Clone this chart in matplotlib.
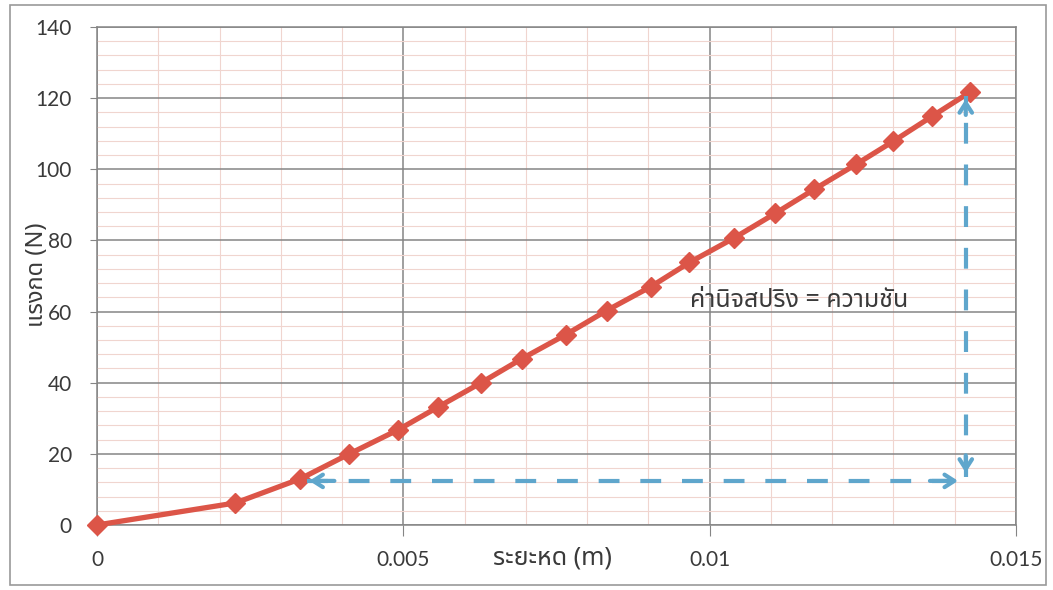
import matplotlib
matplotlib.use("Agg")
import matplotlib.pyplot as plt
from matplotlib.patches import Rectangle
from matplotlib.ticker import MultipleLocator

# ระยะหด (m) และ แรงกด (N)
disp = [0, 0.00226, 0.00332, 0.00412, 0.00492, 0.00557, 0.00627, 0.00694, 0.00765,
        0.00832, 0.00904, 0.00967, 0.01039, 0.01107, 0.01171, 0.01239, 0.01300,
        0.01363, 0.01425]
force = [0, 6.2, 13.0, 20.0, 26.8, 33.2, 40.0, 46.8, 53.5, 60.3, 67.0, 73.8, 80.6,
         87.6, 94.4, 101.4, 107.9, 114.9, 121.7]

xlabel = "ระยะหด (m)"
ylabel = "แรงกด (N)"
note = "ค่านิจสปริง = ความชัน"
xticks = [0, 0.005, 0.01, 0.015]
xticklabels = ["0", "0.005", "0.01", "0.015"]

thai = ["Noto Sans Thai", "DejaVu Sans"]
num = ["Lato", "DejaVu Sans"]
red = "#dc5548"
blue = "#5fa6cc"
txt = "#3a3a3a"

fig = plt.figure(figsize=(10.53, 5.9), dpi=100)
ax = fig.add_axes([97 / 1053, 1 - 525 / 590, 919 / 1053, 498 / 590])

ax.set_xlim(0, 0.015)
ax.set_ylim(0, 140)
ax.xaxis.set_major_locator(MultipleLocator(0.005))
ax.xaxis.set_minor_locator(MultipleLocator(0.001))
ax.yaxis.set_major_locator(MultipleLocator(20))
ax.yaxis.set_minor_locator(MultipleLocator(4))
ax.grid(which="minor", color="#f0d5cf", lw=0.8)
ax.grid(which="major", color="#858585", lw=1.1)
ax.set_axisbelow(True)
for s in ax.spines.values():
    s.set_color("#858585")
    s.set_linewidth(1.1)

ax.set_xticks(xticks)
ax.set_xticklabels(xticklabels)
ax.tick_params(which="major", axis="x", length=8, color="#858585", pad=10)
ax.tick_params(which="major", axis="y", length=5, color="#858585", pad=13)
ax.tick_params(which="minor", length=0)
for lab in ax.get_xticklabels() + ax.get_yticklabels():
    lab.set_family(num)
    lab.set_fontsize(15)
    lab.set_color(txt)

ax.plot(disp, force, color=red, lw=3.8, marker="D", markersize=10,
        markerfacecolor=red, markeredgecolor=red, zorder=3, clip_on=False)

# เส้นประลูกศร
x0, x1 = disp[2] + 0.0001, disp[-1] - 0.0001
y0, y1 = force[2] - 0.6, force[-1] - 1.2
ax.plot([x0, x1], [y0, y0], color=blue, lw=3, dashes=(5, 5), zorder=4)
ax.plot([x1 + 0.00003, x1 + 0.00003], [y0 + 1, y1], color=blue, lw=3, dashes=(5, 5), zorder=4)
head = dict(arrowstyle="->,head_length=0.7,head_width=0.45", color=blue, lw=3)
ax.annotate("", xy=(x0, y0), xytext=(x0 + 0.0005, y0), arrowprops=head, zorder=5)
ax.annotate("", xy=(x1 - 0.00005, y0), xytext=(x1 - 0.0006, y0), arrowprops=head, zorder=5)
ax.annotate("", xy=(x1 + 0.00003, y1), xytext=(x1 + 0.00003, y1 - 6), arrowprops=head, zorder=5)
ax.annotate("", xy=(x1 + 0.00003, y0 + 1.5), xytext=(x1 + 0.00003, y0 + 8), arrowprops=head, zorder=5)

ax.text(0.00968, 63, note, family=thai, fontsize=18, color=txt, va="center", ha="left")

fig.text(552 / 1053, 1 - 558 / 590, xlabel, family=thai, fontsize=18, color=txt,
         ha="center", va="center")
fig.text(37 / 1053, 1 - 275 / 590, ylabel, family=thai, fontsize=17, color=txt,
         ha="center", va="center", rotation=90)

fig.patches.append(Rectangle((10 / 1053, 5 / 590), 1036 / 1053, 580 / 590,
                             transform=fig.transFigure, fill=False, ec="#9a9a9a", lw=1.2))

fig.savefig("out.png", dpi=100)
